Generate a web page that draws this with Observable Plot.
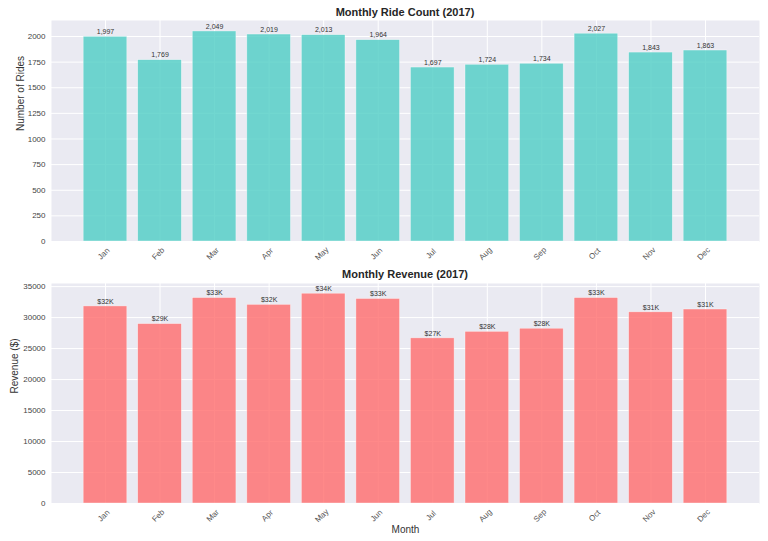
<!DOCTYPE html>
<html>
<head>
<meta charset="utf-8">
<script src="https://cdn.jsdelivr.net/npm/d3@7"></script>
<script src="https://cdn.jsdelivr.net/npm/@observablehq/plot@0.6"></script>
<style>
  body { margin: 0; background: #fff; font-family: "Liberation Sans", Arial, sans-serif; }
  #wrap { width: 768px; height: 541px; position: relative; overflow: hidden; }
  .title { position: absolute; left: 51px; width: 708px; text-align: center; font-weight: bold; font-size: 11px; color: #262626; }
  .panel { position: absolute; left: 0; }
  svg { font-family: "Liberation Sans", Arial, sans-serif; }
</style>
</head>
<body>
<div id="wrap">
  <div class="title" style="top:6px">Monthly Ride Count (2017)</div>
  <div class="panel" id="p1" style="top:20px"></div>
  <div class="title" style="top:268px">Monthly Revenue (2017)</div>
  <div class="panel" id="p2" style="top:283px"></div>
</div>
<script>
const months = ["Jan","Feb","Mar","Apr","May","Jun","Jul","Aug","Sep","Oct","Nov","Dec"];
const rides = [1997, 1769, 2049, 2019, 2013, 1964, 1697, 1724, 1734, 2027, 1843, 1863];
const revenue = [31800, 28950, 33150, 32050, 33850, 33000, 26650, 27700, 28200, 33150, 30850, 31300];
const rideTicks = [0, 250, 500, 750, 1000, 1250, 1500, 1750, 2000];
const revTicks = [0, 5000, 10000, 15000, 20000, 25000, 30000, 35000];

const rideData = months.map((m, i) => ({month: m, value: rides[i]}));
const revData = months.map((m, i) => ({month: m, value: revenue[i]}));

function panel({data, color, yDomain, yTicks, yLabel, labelDx, height, marginBottom, fmt, xLabel}) {
  return Plot.plot({
    width: 768,
    height,
    marginTop: 0,
    marginLeft: 51,
    marginRight: 9,
    marginBottom,
    style: {fontSize: "8px", color: "#444", fontFamily: "Liberation Sans, Arial, sans-serif"},
    x: {domain: months, paddingInner: 0.2, paddingOuter: 0.59, round: false},
    y: {domain: yDomain},
    marks: [
      Plot.frame({fill: "#EAEAF2", stroke: null}),
      Plot.gridX({stroke: "#fff", strokeOpacity: 1, strokeWidth: 1}),
      Plot.gridY(yTicks, {stroke: "#fff", strokeOpacity: 1, strokeWidth: 1}),
      Plot.barY(data, {x: "month", y: "value", fill: color, fillOpacity: 0.8, stroke: "#fff", strokeWidth: 0.6, strokeOpacity: 0.6}),
      Plot.text(data, {x: "month", y: "value", text: d => fmt(d.value), dy: -5, fontSize: 7, fill: "#333"}),
      Plot.axisY(yTicks, {tickSize: 0, tickPadding: 6, tickFormat: d => String(d), label: null, fontSize: 8, fill: "#444"}),
      Plot.text([yLabel], {frameAnchor: "left", rotate: -90, dx: labelDx, fontSize: 10, fill: "#333"}),
      Plot.axisX({tickSize: 0, label: null, tickFormat: () => ""}),
      Plot.text(months, {x: d => d, frameAnchor: "bottom", dy: 14, rotate: -45, fontSize: 8, fill: "#555", textAnchor: "middle"}),
      ...(xLabel ? [Plot.text([xLabel], {frameAnchor: "bottom", dy: 29, fontSize: 10, fill: "#333"})] : [])
    ]
  });
}

document.getElementById("p1").appendChild(panel({
  data: rideData, color: "#4ECDC4", yDomain: [0, 2156], yTicks: rideTicks,
  yLabel: "Number of Rides", labelDx: -31, height: 245, marginBottom: 24,
  fmt: d3.format(",")
}));
document.getElementById("p2").appendChild(panel({
  data: revData, color: "#FF6B6B", yDomain: [0, 35500], yTicks: revTicks,
  yLabel: "Revenue ($)", labelDx: -37, height: 258, marginBottom: 38,
  fmt: v => "$" + Math.round(v / 1000) + "K", xLabel: "Month"
}));
</script>
</body>
</html>
